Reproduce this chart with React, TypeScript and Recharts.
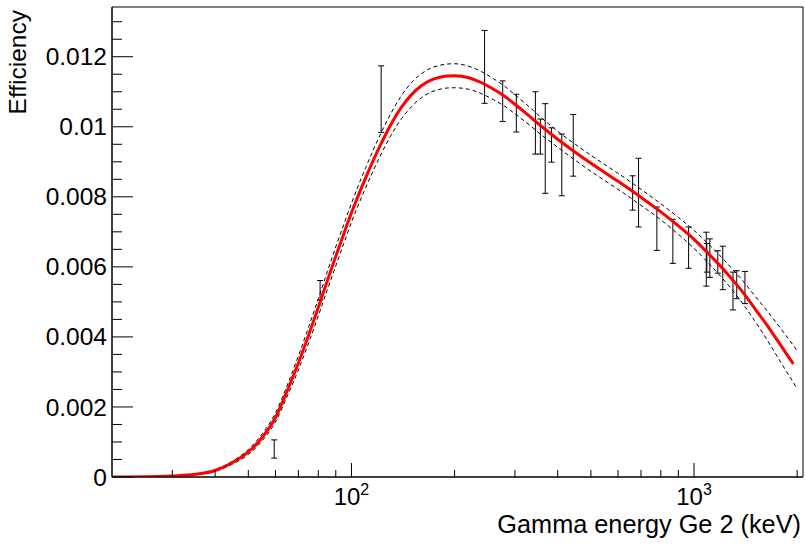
import {
  ComposedChart,
  Line,
  Scatter,
  ErrorBar,
  XAxis,
  YAxis,
  ReferenceArea,
  Label,
} from "recharts";

// fit curve and its confidence band
const energies = [
  20, 25, 30, 35, 40, 45, 50, 55, 60, 65, 70, 75, 80, 85, 90, 95, 100, 110, 120,
  130, 140, 150, 160, 170, 180, 190, 200, 220, 240, 260, 280, 300, 330, 360, 400,
  450, 500, 550, 600, 700, 800, 900, 1000, 1100, 1200, 1300, 1400, 1500, 1600,
  1700, 1800, 1900, 1950, 2000,
];
const fitEff = [
  0, 0.0000057, 0.0000314, 0.0000771, 0.000186, 0.000414, 0.000714, 0.001143,
  0.0017, 0.002471, 0.003257, 0.004057, 0.004843, 0.0056, 0.0063, 0.006943,
  0.007543, 0.008543, 0.009371, 0.010046, 0.010563, 0.010926, 0.011171,
  0.011326, 0.011406, 0.011449, 0.011457, 0.0114, 0.011257, 0.011071, 0.010871,
  0.010643, 0.010314, 0.01, 0.009643, 0.009271, 0.008957, 0.008686, 0.008443,
  0.007986, 0.007571, 0.007171, 0.006786, 0.006386, 0.006, 0.005614, 0.005229,
  0.004829, 0.004457, 0.004086, 0.003729, 0.003386, 0.003229, null,
];
const upperEff = [
  0, 0.0000057, 0.0000343, 0.0000886, 0.000209, 0.000457, 0.000786, 0.001243,
  0.001829, 0.002629, 0.003457, 0.004286, 0.005086, 0.005857, 0.006571,
  0.007214, 0.007814, 0.008829, 0.009671, 0.01036, 0.010891, 0.011269,
  0.011514, 0.011669, 0.011749, 0.011791, 0.0118, 0.011729, 0.011571, 0.011371,
  0.011157, 0.010914, 0.010571, 0.010243, 0.009871, 0.0095, 0.009186, 0.008914,
  0.008671, 0.008214, 0.0078, 0.007414, 0.007043, 0.006657, 0.006286, 0.005914,
  0.005557, 0.005186, 0.004857, 0.004529, 0.004214, 0.0039, 0.003757, 0.0036,
];
const lowerEff = [
  0, 0.0000057, 0.0000286, 0.0000657, 0.000163, 0.000371, 0.000643, 0.001043,
  0.001571, 0.002314, 0.003057, 0.003829, 0.0046, 0.005343, 0.006029, 0.006671,
  0.007271, 0.008257, 0.009071, 0.009731, 0.010234, 0.010583, 0.010829,
  0.010983, 0.011063, 0.011106, 0.011114, 0.011071, 0.010943, 0.010771,
  0.010586, 0.010371, 0.010057, 0.009757, 0.009414, 0.009043, 0.008729,
  0.008457, 0.008214, 0.007757, 0.007343, 0.006929, 0.006529, 0.006114,
  0.005714, 0.005314, 0.0049, 0.004471, 0.004057, 0.003643, 0.003243, 0.002871,
  0.0027, 0.002514,
];

// measured points
const pointEnergy = [
  59.5, 81.0, 122.1, 244.7, 276.4, 302.9, 344.3, 356.0, 367.8, 383.8, 411.1,
  444.0, 661.7, 688.7, 778.9, 867.4, 964.1, 1085.8, 1089.7, 1112.1, 1173.2,
  1212.9, 1299.1, 1332.5, 1408.0,
];
const pointEff = [
  0.0008, 0.00533, 0.01079, 0.01171, 0.01073, 0.01039, 0.01011, 0.00972,
  0.00938, 0.00948, 0.00891, 0.00947, 0.00811, 0.00812, 0.00709, 0.00673,
  0.00655, 0.00622, 0.00626, 0.00625, 0.00614, 0.00597, 0.00531, 0.00549,
  0.00541,
];
const pointErr = [
  0.00026, 0.00028, 0.00095, 0.00104, 0.00058, 0.00054, 0.00089, 0.0005,
  0.00128, 0.00049, 0.00088, 0.00088, 0.00049, 0.00098, 0.00062, 0.00063,
  0.00059, 0.00077, 0.00041, 0.00055, 0.00032, 0.00062, 0.00054, 0.0004,
  0.00046,
];

const xTicks = [30, 40, 50, 60, 70, 80, 90, 100, 200, 300, 400, 500, 600, 700, 800, 900, 1000, 2000];
const xDecades = [100, 1000];
const xDecadeExp = ["2", "3"];

const yTicks = [
  0, 0.0005, 0.001, 0.0015, 0.002, 0.0025, 0.003, 0.0035, 0.004, 0.0045, 0.005,
  0.0055, 0.006, 0.0065, 0.007, 0.0075, 0.008, 0.0085, 0.009, 0.0095, 0.01,
  0.0105, 0.011, 0.0115, 0.012, 0.0125, 0.013,
];
const yMajor = [0, 0.002, 0.004, 0.006, 0.008, 0.01, 0.012];
const yMajorLabels = ["0", "0.002", "0.004", "0.006", "0.008", "0.01", "0.012"];

const curveData = energies.map((e, i) => ({
  e,
  fit: fitEff[i],
  up: upperEff[i],
  low: lowerEff[i],
}));
const points = pointEnergy.map((e, i) => ({ e, eff: pointEff[i], err: pointErr[i] }));

const FONT = "'Liberation Sans', Arial, Helvetica, sans-serif";

function XTick(props: any) {
  const { x, y, payload } = props;
  const k = xDecades.indexOf(payload.value);
  const major = k >= 0;
  return (
    <g>
      <line x1={x} x2={x} y1={y} y2={y - (major ? 14 : 7)} stroke="#000" />
      {major && (
        <text x={x} y={y + 28} textAnchor="middle" fontSize={24} fontFamily={FONT} fill="#000">
          10
          <tspan fontSize={16} dy={-10}>
            {xDecadeExp[k]}
          </tspan>
        </text>
      )}
    </g>
  );
}

function YTick(props: any) {
  const { x, y, payload } = props;
  const k = yMajor.indexOf(payload.value);
  const major = k >= 0;
  return (
    <g>
      <line x1={x} x2={x + (major ? 21 : 10)} y1={y} y2={y} stroke="#000" />
      {major && (
        <text x={x - 5} y={y} dy="0.35em" textAnchor="end" fontSize={24.5} fontFamily={FONT} fill="#000">
          {yMajorLabels[k]}
        </text>
      )}
    </g>
  );
}

export default function App() {
  return (
    <div style={{ position: "absolute", left: 0, top: 0, background: "#fff" }}>
      <ComposedChart
        width={805}
        height={545}
        data={curveData}
        margin={{ top: 7, right: 2, bottom: 0, left: 0 }}
      >
        <XAxis
          dataKey="e"
          type="number"
          scale="log"
          domain={[20, 2080]}
          allowDataOverflow
          ticks={xTicks}
          interval={0}
          tick={<XTick />}
          tickLine={false}
          tickSize={0}
          tickMargin={0}
          height={68}
          axisLine={{ stroke: "#000" }}
        >
          <Label
            content={(p: any) => {
              const vb = p.viewBox;
              return (
                <text
                  x={vb.x + vb.width - 2}
                  y={vb.y + 56}
                  textAnchor="end"
                  fontSize={25.3}
                  fontFamily={FONT}
                  fill="#000"
                >
                  Gamma energy Ge 2 (keV)
                </text>
              );
            }}
          />
        </XAxis>
        <YAxis
          type="number"
          domain={[0, 0.01342]}
          allowDataOverflow
          ticks={yTicks}
          interval={0}
          tick={<YTick />}
          tickLine={false}
          tickSize={0}
          tickMargin={0}
          width={112}
          axisLine={{ stroke: "#000" }}
        >
          <Label
            content={(p: any) => {
              const vb = p.viewBox;
              const tx = vb.x + 26;
              const ty = vb.y + 3;
              return (
                <text
                  x={tx}
                  y={ty}
                  transform={`rotate(-90 ${tx} ${ty})`}
                  textAnchor="end"
                  fontSize={24.5}
                  fontFamily={FONT}
                  fill="#000"
                >
                  Efficiency
                </text>
              );
            }}
          />
        </YAxis>
        <ReferenceArea
          x1={20}
          x2={2080}
          y1={0}
          y2={0.01342}
          fill="none"
          stroke="#000"
          strokeWidth={1}
          ifOverflow="visible"
        />
        <Line
          dataKey="up"
          type="monotone"
          stroke="#000"
          strokeWidth={1}
          strokeDasharray="4 3"
          dot={false}
          activeDot={false}
          isAnimationActive={false}
        />
        <Line
          dataKey="low"
          type="monotone"
          stroke="#000"
          strokeWidth={1}
          strokeDasharray="4 3"
          dot={false}
          activeDot={false}
          isAnimationActive={false}
        />
        <Scatter
          data={points}
          dataKey="eff"
          shape={() => <g />}
          isAnimationActive={false}
        >
          <ErrorBar dataKey="err" direction="y" width={3} stroke="#000" strokeWidth={1} />
        </Scatter>
        <Line
          dataKey="fit"
          type="monotone"
          stroke="#ff0000"
          strokeWidth={3}
          dot={false}
          activeDot={false}
          isAnimationActive={false}
        />
      </ComposedChart>
    </div>
  );
}
